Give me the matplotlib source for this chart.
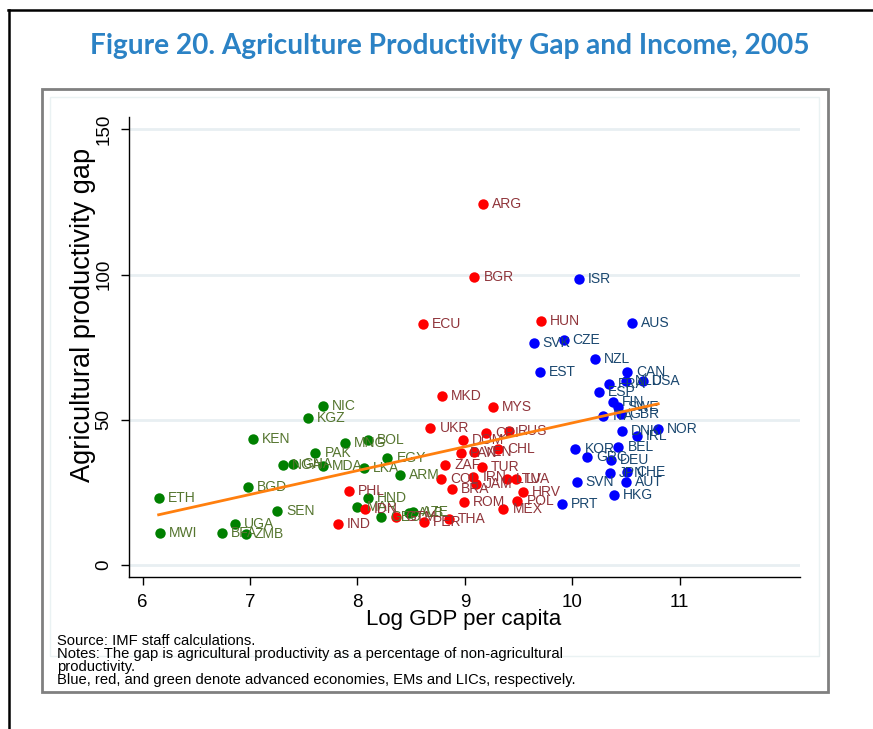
import numpy as np
import matplotlib
matplotlib.use("Agg")
import matplotlib.pyplot as plt
from matplotlib.lines import Line2D
from matplotlib.patches import Rectangle

plt.rcParams['font.family'] = ['Liberation Sans', 'DejaVu Sans']

#Advanced economies (blue)
advCodes = ["ISR", "AUS", "SVK", "CZE", "NZL", "EST", "CAN", "FRA", "NLD", "USA",
            "ESP", "FIN", "SWE", "ITA", "GBR", "DNK", "NOR", "IRL", "BEL", "KOR",
            "GRC", "DEU", "JPN", "CHE", "AUT", "SVN", "HKG", "PRT"]
advGdp = [10.06, 10.56, 9.64, 9.92, 10.21, 9.70, 10.51, 10.34, 10.50, 10.66,
          10.25, 10.38, 10.43, 10.29, 10.45, 10.46, 10.80, 10.60, 10.43, 10.03,
          10.14, 10.36, 10.35, 10.51, 10.50, 10.04, 10.39, 9.90]
advGap = [98.5, 83.4, 76.5, 77.5, 71.0, 66.5, 66.5, 62.3, 63.4, 63.4,
          59.6, 56.1, 54.4, 51.3, 52.0, 46.2, 46.8, 44.4, 40.6, 40.0,
          37.2, 36.2, 31.7, 32.0, 28.6, 28.6, 24.1, 21.0]

#Emerging markets (red)
emCodes = ["ARG", "BGR", "ECU", "HUN", "MKD", "MYS", "UKR", "CRI", "RUS", "DOM",
           "CHL", "PAN", "VEN", "ZAF", "TUR", "COL", "IRN", "JAM", "LTU", "LVA",
           "BRA", "HRV", "ROM", "POL", "MEX", "PHL", "IND", "IDN", "GTM", "PER", "THA"]
emGdp = [9.17, 9.09, 8.61, 9.71, 8.79, 9.26, 8.68, 9.20, 9.41, 8.98,
         9.31, 8.96, 9.09, 8.82, 9.16, 8.78, 9.08, 9.10, 9.39, 9.48,
         8.88, 9.54, 8.99, 9.49, 9.36, 7.92, 7.82, 8.07, 8.36, 8.62, 8.85]
emGap = [124.4, 99.2, 83.0, 84.1, 58.2, 54.4, 47.2, 45.5, 46.2, 43.1,
         40.0, 38.6, 38.9, 34.4, 33.8, 29.6, 30.3, 27.9, 29.6, 29.6,
         26.2, 25.1, 21.7, 22.0, 19.3, 25.5, 14.1, 19.3, 16.5, 14.8, 15.8]

#Low income countries (green)
licCodes = ["NIC", "KGZ", "KEN", "MNG", "BOL", "PAK", "NGA", "GHA", "MDA", "LKA",
            "EGY", "ARM", "BGD", "ETH", "HND", "MAR", "GEO", "ALB", "AZE", "SEN",
            "UGA", "MWI", "BFA", "ZMB"]
licGdp = [7.68, 7.54, 7.03, 7.88, 8.10, 7.61, 7.31, 7.40, 7.68, 8.06,
          8.28, 8.40, 6.98, 6.15, 8.10, 8.00, 8.22, 8.48, 8.52, 7.25,
          6.86, 6.16, 6.74, 6.96]
licGap = [54.8, 50.6, 43.4, 42.0, 43.1, 38.6, 34.4, 34.8, 34.1, 33.4,
          36.9, 31.0, 26.9, 23.1, 23.1, 20.0, 16.5, 17.9, 18.3, 18.6,
          14.1, 11.0, 11.0, 10.7]

W, H = 873, 729
fig = plt.figure(figsize=(W / 100, H / 100), dpi=100)

def fx(px):
    return px / W

def fy(py):
    return 1 - py / H

#Outer frame and graph box
fig.add_artist(Line2D([fx(9), fx(9)], [fy(10), fy(729)], color='black', lw=1.8))
fig.add_artist(Line2D([fx(8), fx(873)], [fy(10), fy(10)], color='black', lw=1.8))
fig.add_artist(Rectangle((fx(42), fy(692)), fx(828) - fx(42), fy(89) - fy(692),
                         fill=False, edgecolor='#808080', lw=2))
fig.add_artist(Rectangle((fx(50), fy(656)), fx(819) - fx(50), fy(97) - fy(656),
                         fill=False, edgecolor='#EAF2F3', lw=1))

fig.text(fx(450), fy(46), "Figure 20. Agriculture Productivity Gap and Income, 2005",
         family='Lato', fontweight='bold', fontsize=20.2, color='#2B82C5',
         ha='center', va='center')

ax = fig.add_axes([fx(129), fy(577), fx(800) - fx(129), fy(117) - fy(577)])
ax.set_xlim(5.874, 12.12)
ax.set_ylim(-4.13, 154.3)
for s in ['top', 'right']:
    ax.spines[s].set_visible(False)
ax.spines['left'].set_linewidth(1)
ax.spines['bottom'].set_linewidth(1)

ax.set_yticks([0, 50, 100, 150])
ax.set_xticks([6, 7, 8, 9, 10, 11])
ax.grid(axis='y', color='#E8EFF2', lw=2)
ax.set_axisbelow(True)
ax.tick_params(axis='x', length=6, width=1, labelsize=13.5, pad=6)
ax.tick_params(axis='y', length=6, width=1, labelsize=13.5, pad=6)
for lab in ax.get_yticklabels():
    lab.set_rotation(90)
    lab.set_va('center')

groups = [
    (licCodes, licGdp, licGap, '#008000', '#55752F'),
    (emCodes, emGdp, emGap, '#FF0000', '#90353B'),
    (advCodes, advGdp, advGap, '#0000FF', '#1A476F'),
]
for codes, gdp, gap, dotColor, textColor in groups:
    ax.plot(gdp, gap, 'o', color=dotColor, markersize=7.5, markeredgewidth=0, zorder=3)
    for c, x, y in zip(codes, gdp, gap):
        ax.annotate(c, (x, y), xytext=(6.5, 0), textcoords='offset points',
                    va='center', ha='left', fontsize=10, color=textColor, zorder=4)

#Linear fit over all countries
allX = np.array(advGdp + emGdp + licGdp)
allY = np.array(advGap + emGap + licGap)
slope, icept = np.polyfit(allX, allY, 1)
fitX = np.array([allX.min(), allX.max()])
ax.plot(fitX, slope * fitX + icept, color='#FF7F0E', lw=2, zorder=5)

fig.text(fx(83), fy(315), "Agricultural productivity gap", rotation=90,
         fontsize=19.5, ha='center', va='center')
fig.text(fx(464), fy(620), "Log GDP per capita", fontsize=16, ha='center', va='center')

notes = ["Source: IMF staff calculations.",
         "Notes: The gap is agricultural productivity as a percentage of non-agricultural",
         "productivity.",
         "Blue, red, and green denote advanced economies, EMs and LICs, respectively."]
notesY = [641, 654, 667, 680]
for t, y in zip(notes, notesY):
    fig.text(fx(57), fy(y), t, fontsize=10.6, ha='left', va='center')

fig.savefig("out.png", dpi=100)
